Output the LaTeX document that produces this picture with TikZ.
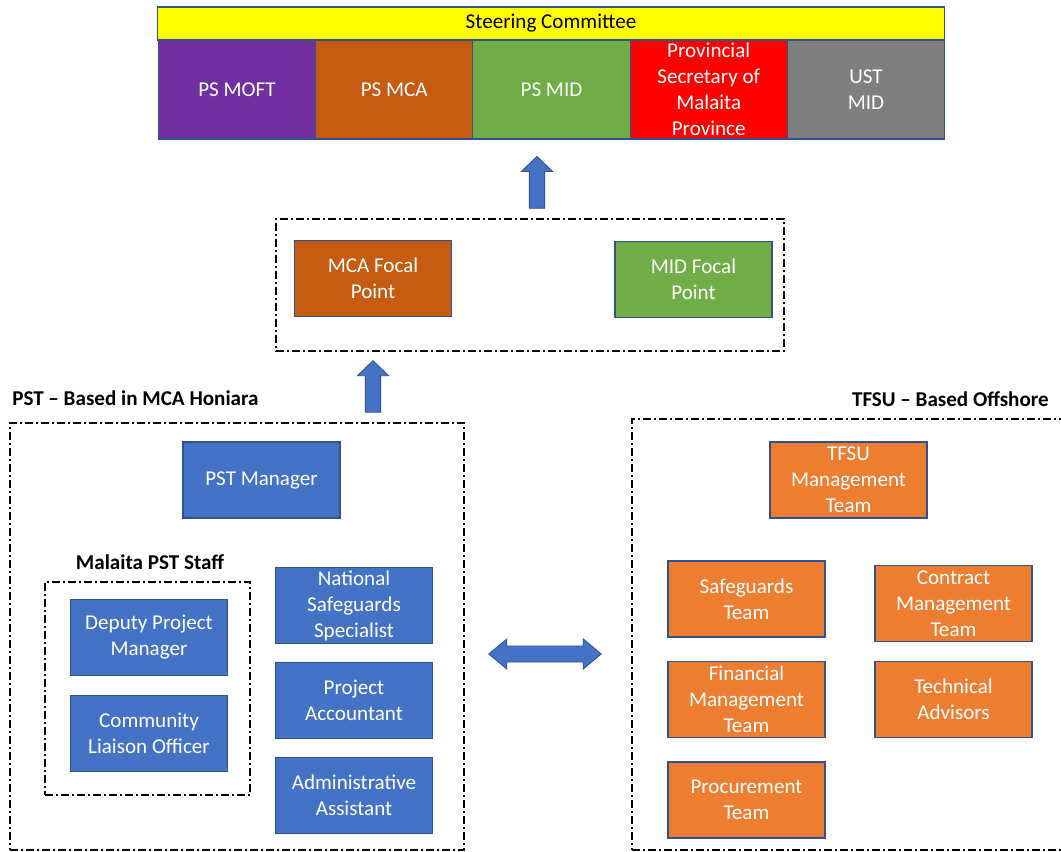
\documentclass[tikz,border=0pt]{standalone}
\usepackage{fontspec}
\setmainfont{Carlito}
\usetikzlibrary{positioning, calc}

\definecolor{edgeblue}{HTML}{2F528F}
\definecolor{scyellow}{HTML}{FFFF00}
\definecolor{moftpurple}{HTML}{7030A0}
\definecolor{mcabrown}{HTML}{C55A11}
\definecolor{midgreen}{HTML}{70AD47}
\definecolor{provred}{HTML}{FF0000}
\definecolor{ustgrey}{HTML}{7F7F7F}
\definecolor{pstblue}{HTML}{4472C4}
\definecolor{tfsuorange}{HTML}{ED7D31}

\tikzset{
  box/.style={draw=edgeblue, line width=0.8pt, text=white, align=center,
    minimum width=3.925cm, minimum height=1.9cm, inner sep=1pt},
  cell/.style={box, minimum width=3.93cm, minimum height=2.475cm},
  pstbox/.style={box, fill=pstblue},
  tfsubox/.style={box, fill=tfsuorange},
  grpbox/.style={draw=black, line width=1pt,
    dash pattern=on 0.2cm off 0.08cm on 0.04cm off 0.08cm},
  lbl/.style={font=\fontsize{15}{18.5}\selectfont\bfseries, inner sep=0pt},
  uparr/.style={draw=edgeblue, fill=pstblue, line width=0.6pt, to path={
    let \p1=(\tikztostart), \p2=(\tikztotarget) in
    (\x1-0.19cm,\y1) -- (\x1-0.19cm,\y2-0.375cm) -- (\x1-0.39cm,\y2-0.375cm)
    -- (\x1,\y2) -- (\x1+0.39cm,\y2-0.375cm) -- (\x1+0.19cm,\y2-0.375cm)
    -- (\x1+0.19cm,\y1) -- cycle}},
  lrarr/.style={draw=edgeblue, fill=pstblue, line width=0.6pt, to path={
    let \p1=(\tikztostart), \p2=(\tikztotarget) in
    (\x1,\y1) -- (\x1+0.45cm,\y1+0.375cm) -- (\x1+0.45cm,\y1+0.2cm)
    -- (\x2-0.45cm,\y1+0.2cm) -- (\x2-0.45cm,\y1+0.375cm) -- (\x2,\y1)
    -- (\x2-0.45cm,\y1-0.375cm) -- (\x2-0.45cm,\y1-0.2cm)
    -- (\x1+0.45cm,\y1-0.2cm) -- (\x1+0.45cm,\y1-0.375cm) -- cycle}}
}

\begin{document}
\begin{tikzpicture}[x=0.025cm, y=-0.025cm, on grid, font=\fontsize{15}{18.5}\selectfont]
  \useasboundingbox (0,0) rectangle (1061,852);

  % steering committee
  \node[box, fill=scyellow, text=black, minimum width=19.65cm, minimum height=0.825cm]
    (sc) at (551,23.5) {Steering Committee};
  \node[cell, fill=moftpurple] (moft) at (237,89.5) {PS MOFT};
  \node[cell, fill=mcabrown] (psmca) [right=3.93cm of moft] {PS MCA};
  \node[cell, fill=midgreen] (psmid) [right=3.93cm of psmca] {PS MID};
  \node[cell, fill=provred] (prov) [right=3.93cm of psmid] {Provincial\\Secretary of\\Malaita\\Province};
  \node[cell, fill=ustgrey] (ust) [right=3.93cm of prov] {UST\\MID};

  % focal points
  \node[grpbox, minimum width=12.7cm, minimum height=3.3cm] (focal) at (530,285) {};
  \node[box, fill=mcabrown] (mcafp) at (373,278.5) {MCA Focal\\Point};
  \node[box, fill=midgreen] (midfp) at (693.5,279.5) {MID Focal\\Point};

  % PST
  \node[lbl, anchor=west] (pstlbl) at (12,398) {PST -- Based in MCA Honiara};
  \node[grpbox, minimum width=11.35cm, minimum height=10.675cm] (pst) at (237,636.5) {};
  \node[pstbox] (pstmgr) at (261.5,480) {PST Manager};
  \node[lbl] (staff) at (150,562) {Malaita PST Staff};
  \node[grpbox, minimum width=5.125cm, minimum height=5.325cm] (malaita) at (147.5,688.5) {};
  \node[pstbox] (deputy) at (149,637.5) {Deputy Project\\Manager};
  \node[pstbox] (clo) [below=2.4cm of deputy] {Community\\Liaison Officer};
  \node[pstbox] (nss) at (354,605.5) {National\\Safeguards\\Specialist};
  \node[pstbox] (acct) [below=2.375cm of nss] {Project\\Accountant};
  \node[pstbox] (admin) [below=2.375cm of acct] {Administrative\\Assistant};

  % TFSU
  \node[lbl, anchor=east] (tfsulbl) at (1049,399) {TFSU -- Based Offshore};
  \node[grpbox, minimum width=10.85cm, minimum height=10.775cm] (tfsu) at (849,634.5) {};
  \node[tfsubox] (tfsumgr) at (848.5,480) {TFSU\\Management\\Team};
  \node[tfsubox] (safe) at (746.5,599) {Safeguards\\Team};
  \node[tfsubox] (contract) at (953.5,603.5) {Contract\\Management\\Team};
  \node[tfsubox] (fin) [below=2.5125cm of safe] {Financial\\Management\\Team};
  \node[tfsubox] (tech) at (953.5,699.5) {Technical\\Advisors};
  \node[tfsubox] (proc) [below=2.5125cm of fin] {Procurement\\Team};

  % block arrows
  \coordinate (up1s) at ($(focal.north)+(7,-10)$);
  \coordinate (up1e) at ($(up1s |- sc.north)+(0,150)$);
  \coordinate (up2s) at ($(pst.north -| mcafp)+(0,-10)$);
  \coordinate (up2e) at ($(focal.south -| mcafp)+(0,9)$);
  \coordinate (lrL) at ($(pst.east)+(24,17.5)$);
  \coordinate (lrR) at ($(tfsu.west)+(-30,19.5)$);
  \draw[uparr] (up1s) to (up1e);
  \draw[uparr] (up2s) to (up2e);
  \draw[lrarr] (lrL) to (lrR);
\end{tikzpicture}
\end{document}
